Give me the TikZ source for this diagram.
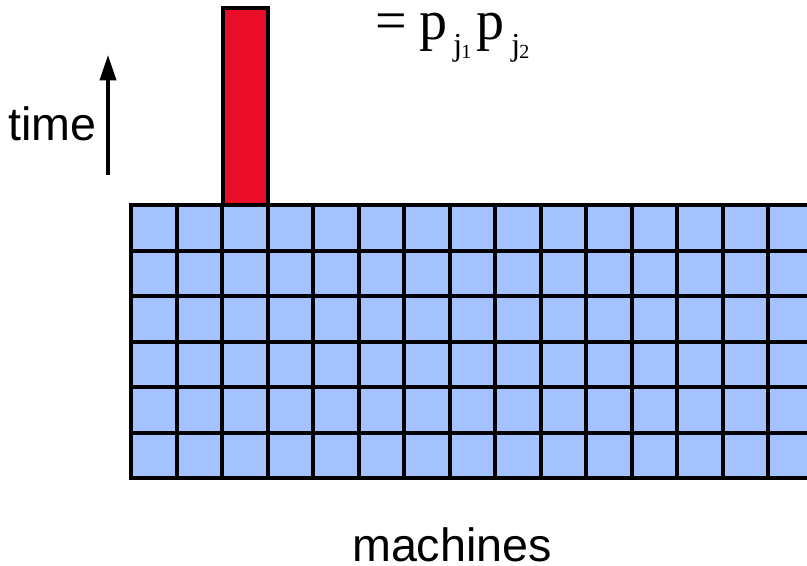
\documentclass[tikz,border=0pt]{standalone}
\usepackage{fontspec}
\setmainfont{Liberation Sans}
\newfontfamily\timesfont{Liberation Serif}
\usetikzlibrary{arrows.meta}
\definecolor{cellblue}{RGB}{164,194,255}
\definecolor{jobred}{RGB}{234,13,40}
\begin{document}
\begin{tikzpicture}[x=0.75pt,y=-0.75pt,
  cellbox/.style={fill=cellblue,draw=black,line width=3pt},
  jobbox/.style={fill=jobred,draw=black,line width=3pt},
  lbl/.style={inner sep=0pt,font=\fontsize{35}{35}\selectfont},
  fbig/.style={inner sep=0pt,anchor=base west,font=\timesfont\fontsize{42}{42}\selectfont},
  fsub/.style={inner sep=0pt,anchor=base west,font=\timesfont\fontsize{24}{24}\selectfont},
  fsubsub/.style={inner sep=0pt,anchor=base west,font=\timesfont\fontsize{15}{15}\selectfont}]
\useasboundingbox (0,0) rectangle (807,565);
\begin{scope}
\clip (0,0) rectangle (807,565);
\foreach \c in {0,...,15}{
  \foreach \r in {0,...,5}{
    \draw[cellbox] ({131+45.5*\c},{205+45.5*\r}) rectangle ++(45.5,45.5);
  }
}
\end{scope}
\draw[jobbox] (222.5,8) rectangle (268,205);
\coordinate (tb) at (108,175);
\coordinate (tt) at (108,55);
\draw[line width=2.8pt,-{Triangle[length=19pt,width=12pt]}] (tb) -- (tt);
\node[lbl,anchor=base west] (time) at (8,140) {time};
\node[lbl,anchor=base] (mach) at (452,561) {machines};
\node[fbig] (eq) at (375,39) {=};
\node[fbig] (p1) at (419,39) {p};
\node[fsub] (j1) at (453,55) {j};
\node[fsubsub] (n1) at (461,58) {1};
\node[fbig] (p2) at (476,39) {p};
\node[fsub] (j2) at (511,55) {j};
\node[fsubsub] (n2) at (519,58) {2};
\end{tikzpicture}
\end{document}
